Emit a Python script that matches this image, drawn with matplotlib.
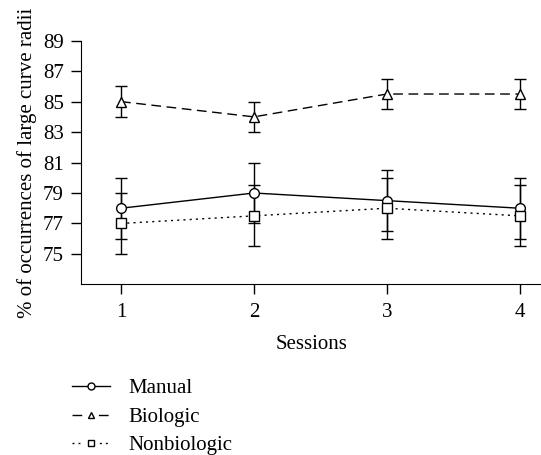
import matplotlib.pyplot as plt
from matplotlib.lines import Line2D

# data
sessions = [1, 2, 3, 4]
manual = [78, 79, 78.5, 78]
manual_err = [2, 2, 2, 2]
biologic = [85, 84, 85.5, 85.5]
biologic_err = [1, 1, 1, 1]
nonbiologic = [77, 77.5, 78, 77.5]
nonbiologic_err = [2, 2, 2, 2]
yticks = [75, 77, 79, 81, 83, 85, 87, 89]
names = ['Manual', 'Biologic', 'Nonbiologic']

plt.rcParams['font.family'] = ['Liberation Serif', 'DejaVu Serif']
plt.rcParams['font.size'] = 15

fig = plt.figure(figsize=(5.41, 4.55), dpi=100)
ax = fig.add_axes([0.150, 0.375, 0.85, 0.5355])

style = dict(color='black', lw=1, capsize=4, capthick=1, elinewidth=1,
             markersize=7, markerfacecolor='white', markeredgecolor='black',
             markeredgewidth=1)
markers = ['o', '^', 's']
lstyles = ['-', (0, (7, 4)), (0, (1.5, 3))]

ax.errorbar(sessions, manual, yerr=manual_err, marker=markers[0], ls=lstyles[0], **style)
ax.errorbar(sessions, biologic, yerr=biologic_err, marker=markers[1], ls=lstyles[1], **style)
ax.errorbar(sessions, nonbiologic, yerr=nonbiologic_err, marker=markers[2], ls=lstyles[2], **style)

ax.set_xlim(0.70, 4.16)
ax.set_ylim(73, 89)
ax.set_xticks(sessions)
ax.set_yticks(yticks)
ax.spines['top'].set_visible(False)
ax.spines['right'].set_visible(False)
ax.tick_params(direction='out', length=7, width=1)
ax.tick_params(axis='x', pad=6.5)
ax.tick_params(axis='y', pad=5.5)
ax.set_xlabel('Sessions', labelpad=9)
ax.set_ylabel('% of occurrences of large curve radii', labelpad=4)

# legend shows only line + marker, no error bars
leg_styles = ['-', (0, (7, 12)), (0, (1.4, 2.9, 1.4, 14))]
handles = [Line2D([], [], color='black', lw=1, ls=leg_styles[i],
                  marker=markers[i], markersize=5, markerfacecolor='white',
                  markeredgecolor='black') for i in range(3)]
fig.legend(handles, names, loc='upper left', bbox_to_anchor=(0.118, 0.186), frameon=False,
           handlelength=1.8, handletextpad=0.9, labelspacing=0.43, borderaxespad=0)

fig.savefig('out.png', dpi=100)
